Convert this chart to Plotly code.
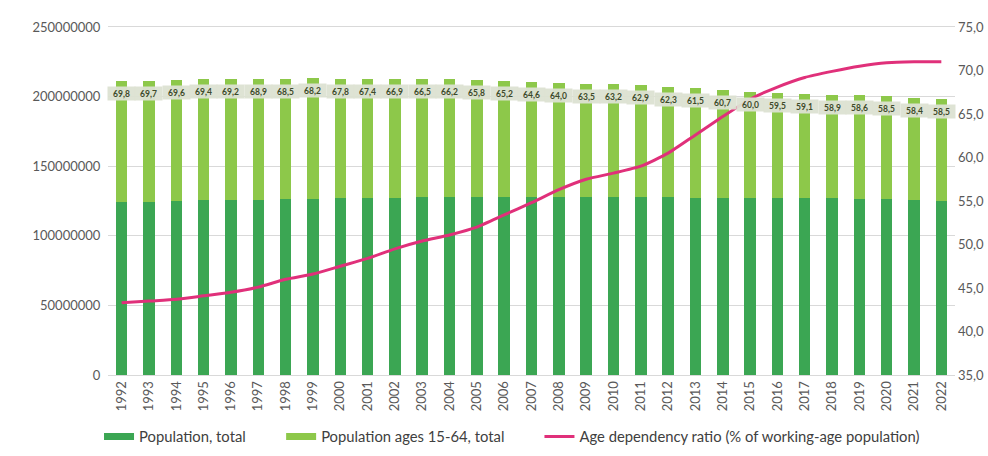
import plotly.graph_objects as go

years = [str(y) for y in range(1992, 2023)]

# Population, total (persons)
pop_total = [124229000, 124536000, 124961000, 125439000, 125757000, 126057000,
             126400000, 126631000, 126843000, 127149000, 127445000, 127718000,
             127761000, 127773000, 127854000, 128001000, 128063000, 128047000,
             128070000, 127833000, 127629000, 127445000, 127276000, 127141000,
             127076000, 126972000, 126811000, 126633000, 126261000, 125682000,
             125125000]

# Population ages 15-64, total (persons)
pop_1564 = [86700000, 86800000, 87000000, 87100000, 87000000, 86900000,
            86600000, 86400000, 86000000, 85700000, 85300000, 84900000,
            84600000, 84100000, 83400000, 82700000, 82000000, 81300000,
            80900000, 80400000, 79500000, 78400000, 77300000, 76300000,
            75600000, 75000000, 74700000, 74200000, 73900000, 73400000,
            73200000]

# Share of ages 15-64 (%), shown as labels
share_labels = ["69,8", "69,7", "69,6", "69,4", "69,2", "68,9", "68,5", "68,2",
                "67,8", "67,4", "66,9", "66,5", "66,2", "65,8", "65,2", "64,6",
                "64,0", "63,5", "63,2", "62,9", "62,3", "61,5", "60,7", "60,0",
                "59,5", "59,1", "58,9", "58,6", "58,5", "58,4", "58,5"]

# Age dependency ratio (% of working-age population)
dep_ratio = [43.3, 43.5, 43.7, 44.1, 44.5, 45.1, 46.0, 46.6, 47.5, 48.4, 49.5,
             50.4, 51.1, 52.0, 53.4, 54.8, 56.3, 57.5, 58.2, 59.0, 60.5, 62.6,
             64.7, 66.7, 68.1, 69.2, 69.9, 70.5, 70.9, 71.0, 71.0]

names = ["Population, total", "Population ages 15-64, total",
         "Age dependency ratio (% of working-age population)"]

FONT = "Lato, 'Open Sans', sans-serif"
DARK_GREEN = "#3ba653"
LIGHT_GREEN = "#8dc84a"
PINK = "#e0307a"

fig = go.Figure()
fig.add_trace(go.Bar(x=years, y=pop_total, name=names[0], showlegend=False,
                     marker=dict(color=DARK_GREEN, line=dict(width=0))))
fig.add_trace(go.Bar(x=years, y=pop_1564, name=names[1], showlegend=False,
                     marker=dict(color=LIGHT_GREEN, line=dict(width=0))))
fig.add_trace(go.Scatter(x=years, y=dep_ratio, yaxis="y2", mode="lines",
                         name=names[2], legend="legend3",
                         line=dict(color=PINK, width=3, shape="spline", smoothing=0.6)))
# legend-only entries with wide rectangular keys for the bar series
fig.add_trace(go.Scatter(x=[None], y=[None], mode="lines", name=names[0],
                         legend="legend", line=dict(color=DARK_GREEN, width=7)))
fig.add_trace(go.Scatter(x=[None], y=[None], mode="lines", name=names[1],
                         legend="legend2", line=dict(color=LIGHT_GREEN, width=7)))

annotations = []
for i, (a, b, lab) in enumerate(zip(pop_total, pop_1564, share_labels)):
    annotations.append(dict(
        x=i, y=a + b, xref="x", yref="y", text=f"<b>{lab}</b>",
        showarrow=False, yanchor="top", yshift=-5, width=27, height=13,
        bgcolor="rgba(220,225,210,0.95)", borderpad=0,
        font=dict(family=FONT, size=8.5, color="#3d4a2a")))

leg_common = dict(orientation="h", xanchor="left", y=-0.178, yanchor="middle",
                  font=dict(size=14.8, color="#404040"), bgcolor="rgba(0,0,0,0)")

fig.update_layout(
    width=988, height=456,
    margin=dict(l=108, r=33, t=27, b=81, autoexpand=False),
    paper_bgcolor="white", plot_bgcolor="white",
    barmode="stack", bargap=0.58,
    separators=", ",
    font=dict(family=FONT, size=13, color="#595959"),
    showlegend=True,
    legend=dict(x=-0.0106, **leg_common),
    legend2=dict(x=0.2044, **leg_common),
    legend3=dict(x=0.5094, **leg_common),
    xaxis=dict(type="category", range=[-0.5, len(years) - 0.5], tickangle=-90,
               showgrid=False, ticks="", showline=True, mirror=True,
               linecolor="#d9d9d9", linewidth=1, tickfont=dict(size=13)),
    yaxis=dict(range=[0, 250000000], dtick=50000000, tickformat="d",
               showgrid=True, gridcolor="#d9d9d9", gridwidth=1, zeroline=False,
               showline=False, ticks="", ticksuffix="  "),
    yaxis2=dict(range=[35, 75], dtick=5, tickformat=".1f", overlaying="y",
                side="right", showgrid=False, zeroline=False, showline=False,
                ticks="", ticklabeloverflow="allow", ticklabelstandoff=2),
    annotations=annotations,
)

fig.write_html("out.html", config={"displayModeBar": False},
               post_script="document.body.style.margin='0';"
                           "document.body.style.overflow='hidden';")
